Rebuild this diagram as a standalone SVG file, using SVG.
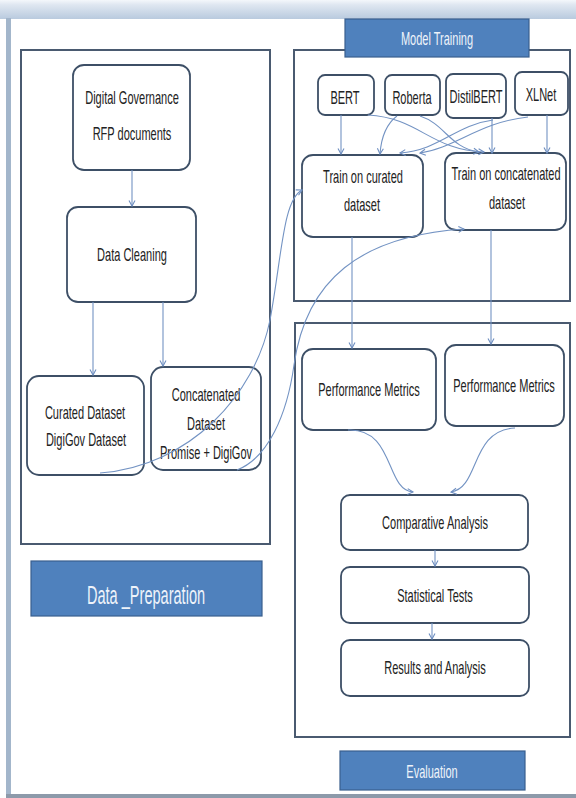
<svg xmlns="http://www.w3.org/2000/svg" width="576" height="798" viewBox="0 0 576 798">
<defs>
<linearGradient id="band" x1="0" y1="0" x2="0" y2="1">
<stop offset="0" stop-color="#f4f7fb"/>
<stop offset="0.25" stop-color="#dfe7f1"/>
<stop offset="1" stop-color="#b9cade"/>
</linearGradient>
<marker id="ah" markerWidth="8" markerHeight="8" refX="6.5" refY="4" orient="auto" markerUnits="userSpaceOnUse">
<path d="M1,1 L6.5,4 L1,7" fill="none" stroke="#6f8fc0" stroke-width="1.1"/>
</marker>
<style>
.panel{fill:none;stroke:#4a5a70;stroke-width:2}
.node{fill:#ffffff;stroke:#3d4f66;stroke-width:1.8}
.lab{fill:#4f81bd;stroke:#3a5f8e;stroke-width:1.2}
.t{font-family:"Liberation Sans",Arial,sans-serif;font-size:19px;fill:#222222;text-anchor:middle}
.lt{font-family:"Liberation Sans",Arial,sans-serif;font-size:19px;fill:#eef3fa;text-anchor:middle}
.big{font-size:26px}
.con{fill:none;stroke:#7393c3;stroke-width:1.1;marker-end:url(#ah)}
</style>
</defs>
<rect x="0" y="0" width="576" height="798" fill="#ffffff"/>
<rect x="0" y="0" width="576" height="19" fill="url(#band)"/>
<rect x="6" y="18" width="5" height="776" fill="#a3b6cb"/>
<rect x="6" y="794" width="570" height="4" fill="#8d9aaa"/>

<g id="panels">
<rect class="panel" x="21" y="50" width="249" height="494"/>
<rect class="panel" x="294" y="50" width="276" height="251"/>
<rect class="panel" x="295" y="323" width="275" height="414"/>
</g>

<g id="label-data-preparation">
<rect class="lab" x="31" y="561" width="231" height="55"/>
<text class="lt big" transform="translate(146,604) scale(0.56,1)">Data _Preparation</text>
</g>
<g id="label-model-training">
<rect class="lab" x="345" y="19" width="184" height="38"/>
<text class="lt" transform="translate(437,45) scale(0.58,1)">Model Training</text>
</g>
<g id="label-evaluation">
<rect class="lab" x="340" y="751" width="185" height="39"/>
<text class="lt" transform="translate(432,778) scale(0.58,1)">Evaluation</text>
</g>

<g id="node-digital-governance">
<rect class="node" x="73" y="65" width="117" height="105" rx="11"/>
<text class="t" transform="translate(132,104) scale(0.58,1)">Digital Governance</text>
<text class="t" transform="translate(132,140) scale(0.58,1)">RFP documents</text>
</g>
<g id="node-data-cleaning">
<rect class="node" x="67" y="207" width="129" height="95" rx="11"/>
<text class="t" transform="translate(132,261) scale(0.58,1)">Data Cleaning</text>
</g>
<g id="node-curated-dataset">
<rect class="node" x="27" y="376" width="117" height="99" rx="12"/>
<text class="t" transform="translate(85,419) scale(0.58,1)">Curated Dataset</text>
<text class="t" transform="translate(86,446) scale(0.58,1)">DigiGov Dataset</text>
</g>
<g id="node-concatenated-dataset">
<rect class="node" x="151" y="367" width="110" height="103" rx="12"/>
<text class="t" transform="translate(206,401) scale(0.58,1)">Concatenated</text>
<text class="t" transform="translate(206,430) scale(0.58,1)">Dataset</text>
<text class="t" transform="translate(206,459) scale(0.58,1)">Promise + DigiGov</text>
</g>

<g id="node-bert">
<rect class="node" x="318" y="75" width="56" height="40" rx="7"/>
<text class="t" transform="translate(345,104) scale(0.58,1)">BERT</text>
</g>
<g id="node-roberta">
<rect class="node" x="385" y="75" width="55" height="40" rx="7"/>
<text class="t" transform="translate(412,104) scale(0.58,1)">Roberta</text>
</g>
<g id="node-distilbert">
<rect class="node" x="446" y="74" width="60" height="44" rx="7"/>
<text class="t" transform="translate(476,103) scale(0.58,1)">DistilBERT</text>
</g>
<g id="node-xlnet">
<rect class="node" x="515" y="72" width="53" height="43" rx="7"/>
<text class="t" transform="translate(541,101) scale(0.58,1)">XLNet</text>
</g>
<g id="node-train-curated">
<rect class="node" x="302" y="155" width="121" height="82" rx="11"/>
<text class="t" transform="translate(363,183) scale(0.58,1)">Train on curated</text>
<text class="t" transform="translate(362,211) scale(0.58,1)">dataset</text>
</g>
<g id="node-train-concatenated">
<rect class="node" x="445" y="153" width="121" height="77" rx="11"/>
<text class="t" transform="translate(506,180) scale(0.58,1)">Train on concatenated</text>
<text class="t" transform="translate(507,209) scale(0.58,1)">dataset</text>
</g>

<g id="node-performance-metrics-1">
<rect class="node" x="302" y="349" width="134" height="81" rx="11"/>
<text class="t" transform="translate(369,396) scale(0.58,1)">Performance Metrics</text>
</g>
<g id="node-performance-metrics-2">
<rect class="node" x="445" y="345" width="119" height="81" rx="11"/>
<text class="t" transform="translate(504,392) scale(0.58,1)">Performance Metrics</text>
</g>
<g id="node-comparative-analysis">
<rect class="node" x="341" y="495" width="187" height="55" rx="9"/>
<text class="t" transform="translate(435,529) scale(0.58,1)">Comparative Analysis</text>
</g>
<g id="node-statistical-tests">
<rect class="node" x="341" y="567" width="188" height="56" rx="9"/>
<text class="t" transform="translate(435,602) scale(0.58,1)">Statistical Tests</text>
</g>
<g id="node-results-analysis">
<rect class="node" x="341" y="640" width="188" height="56" rx="9"/>
<text class="t" transform="translate(435,674) scale(0.58,1)">Results and Analysis</text>
</g>

<g id="connectors">
<path class="con" d="M132,170 L132,206"/>
<path class="con" d="M93,302 L93,375"/>
<path class="con" d="M163,302 L163,366"/>
<path class="con" d="M100,473 C190,466 255,395 270,320 C282,255 283,200 302,190"/>
<path class="con" d="M237,470 C268,458 287,415 294,365 C306,280 360,236 464,229"/>
<path class="con" d="M341,115 L341,154"/>
<path class="con" d="M368,115 C420,118 430,150 484,152"/>
<path class="con" d="M397,116 C385,125 381,140 380,154"/>
<path class="con" d="M420,116 C445,124 450,148 479,152"/>
<path class="con" d="M492,118 L492,153"/>
<path class="con" d="M493,120 C455,125 440,150 400,153"/>
<path class="con" d="M547,115 L547,153"/>
<path class="con" d="M528,117 C480,122 455,148 420,153"/>
<path class="con" d="M352,237 L352,348"/>
<path class="con" d="M491,230 L491,344"/>
<path class="con" d="M348,430 C395,428 385,490 413,492"/>
<path class="con" d="M515,428 C470,430 480,488 451,492"/>
<path class="con" d="M435,550 L435,566"/>
<path class="con" d="M432,623 L432,639"/>
</g>
</svg>
